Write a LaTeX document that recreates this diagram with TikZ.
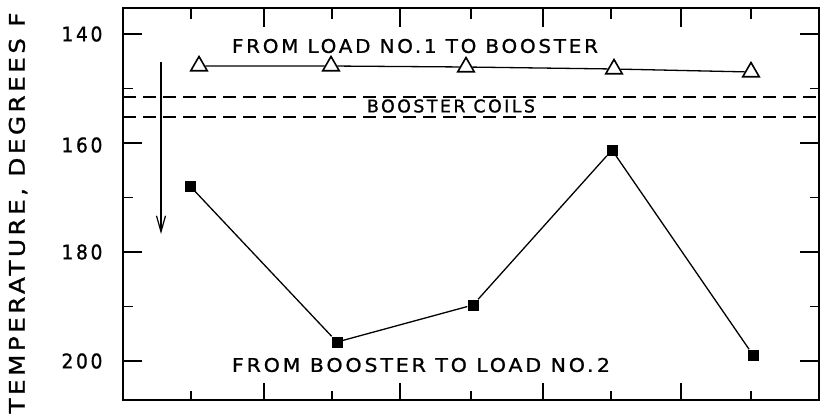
\documentclass[tikz,border=0pt]{standalone}
\usepackage{fontspec}
\setmainfont{DejaVu Sans}[BoldFont={DejaVu Sans}, BoldFeatures={FakeBold=1.0}]
\usetikzlibrary{shapes.geometric,arrows.meta}
\newcommand{\fitbox}[3]{\resizebox{#1pt}{#2pt}{\bfseries\addfontfeature{LetterSpace=14}#3}}
\tikzset{
  frame/.style={line width=1.7pt},
  tick/.style={line width=1.5pt},
  dataline/.style={line width=1.3pt},
  coil/.style={line width=1.3pt, dash pattern=on 13pt off 7pt},
  tri/.style={regular polygon, regular polygon sides=3, draw, line width=1.6pt, fill=white, minimum size=19pt, inner sep=0pt},
  sq/.style={rectangle, fill=black, minimum size=11pt, inner sep=0pt},
  lbl/.style={inner sep=0pt, anchor=center},
}
\begin{document}
\begin{tikzpicture}[x=1pt,y=-1pt]
\useasboundingbox (0,0) rectangle (820,418);
% frame
\draw[frame] (123,8) rectangle (819,400);
% left/right ticks
\foreach \t in {140,160,180,200}{
  \draw[tick] (123,{34+(\t-140)*5.45}) -- (142,{34+(\t-140)*5.45});
  \draw[tick] (800,{34+(\t-140)*5.45}) -- (819,{34+(\t-140)*5.45});
}
\foreach \t in {150,170,190}{
  \draw[tick] (123,{34+(\t-140)*5.45}) -- (133,{34+(\t-140)*5.45});
  \draw[tick] (810,{34+(\t-140)*5.45}) -- (819,{34+(\t-140)*5.45});
}
% top/bottom ticks
\foreach \x in {191,332,471,611,751}{
  \draw[tick] (\x,8) -- (\x,19);
  \draw[tick] (\x,400) -- (\x,391);
}
\foreach \x in {264,400,543,681}{
  \draw[tick] (\x,8) -- (\x,27);
  \draw[tick] (\x,400) -- (\x,383);
}
% tick labels
\node[lbl] (l140) at (82,34) {\fitbox{41}{15}{140}};
\node[lbl] (l160) at (82,145) {\fitbox{41}{15}{160}};
\node[lbl] (l180) at (82,252) {\fitbox{41}{15}{180}};
\node[lbl] (l200) at (82,361) {\fitbox{41}{15}{200}};
% axis label
\node[lbl, rotate=90] (ylab) at (18,213) {\fitbox{401}{16}{TEMPERATURE, DEGREES F}};
% booster coils
\coordinate (c1a) at (123,97); \coordinate (c1b) at (819,97);
\coordinate (c2a) at (123,117); \coordinate (c2b) at (819,117);
\draw[coil] (c1a) -- (c1b);
\draw[coil] (c2a) -- (c2b);
\node[lbl] (coils) at (451,106) {\fitbox{168}{13}{BOOSTER COILS}};
% arrow
\coordinate (ar1) at (161,62);
\coordinate (ar2) at (161,234);
\draw[line width=1.2pt, -{Straight Barb[length=16pt,width=9pt,line width=1.2pt]}] (ar1) -- (ar2);
% upper series
\node[tri] (t1) at (199,66) {};
\node[tri] (t2) at (331,66) {};
\node[tri] (t3) at (466,67) {};
\node[tri] (t4) at (614,69) {};
\node[tri] (t5) at (751,72) {};
\draw[dataline] (t1) -- (t2) -- (t3) -- (t4) -- (t5);
\node[lbl] (top) at (415,46) {\fitbox{366}{14}{FROM LOAD NO.1 TO BOOSTER}};
% lower series
\node[sq] (s1) at (190,186) {};
\node[sq] (s2) at (337,342) {};
\node[sq] (s3) at (473,305) {};
\node[sq] (s4) at (612,150) {};
\node[sq] (s5) at (753,355) {};
\draw[dataline] (s1) -- (s2) -- (s3) -- (s4) -- (s5);
\node[lbl] (bot) at (421,365) {\fitbox{378}{14}{FROM BOOSTER TO LOAD NO.\,2}};
\end{tikzpicture}
\end{document}
